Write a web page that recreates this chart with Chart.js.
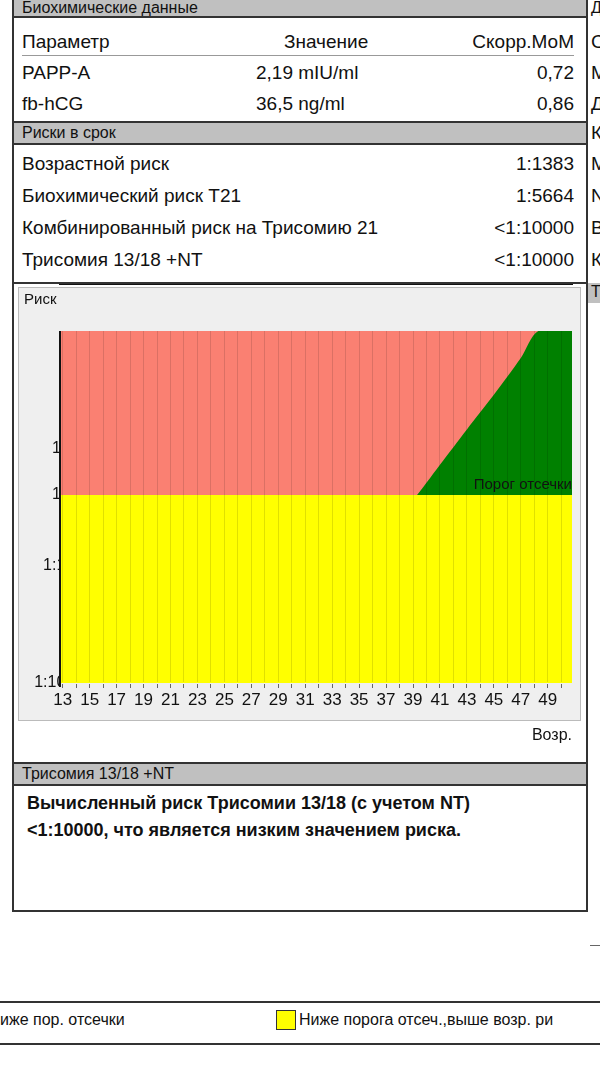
<!DOCTYPE html>
<html>
<head>
<meta charset="utf-8">
<script src="https://cdn.jsdelivr.net/npm/chart.js@4"></script>
<style>
body { margin:0; width:600px; height:1066px; background:#fff; font-family:"Liberation Sans", Arial, sans-serif; position:relative; overflow:hidden; color:#111; }
.box { position:absolute; border:2px solid #333; box-sizing:border-box; }
.hdr { position:absolute; background:#c0c0c0; font-size:16px; padding-left:8px; box-sizing:border-box; line-height:20px; border-bottom:2px solid #333; }
.row { position:absolute; left:22px; width:552px; font-size:19px; }
.r { position:absolute; right:0; }
.m { position:absolute; left:234px; }
.rc { position:absolute; left:591px; font-size:19px; }
</style>
</head>
<body>
<div class="box" style="left:12px;top:-2px;width:576px;height:286px;"></div>
<div class="hdr" style="left:14px;top:0px;width:572px;height:18px;line-height:15px;">Биохимические данные</div>
<div class="row" style="top:31px;border-bottom:1px solid #999;height:24px;">Параметр<span class="m" style="left:262px">Значение</span><span class="r">Скорр.МоМ</span></div>
<div class="row" style="top:62px;">PAPP-A<span class="m">2,19 mIU/ml</span><span class="r">0,72</span></div>
<div class="row" style="top:93px;">fb-hCG<span class="m">36,5 ng/ml</span><span class="r">0,86</span></div>
<div class="hdr" style="left:14px;top:121px;width:572px;height:24px;border-top:2px solid #333;">Риски в срок</div>
<div class="row" style="top:153px;">Возрастной риск<span class="r">1:1383</span></div>
<div class="row" style="top:185px;">Биохимический риск T21<span class="r">1:5664</span></div>
<div class="row" style="top:217px;">Комбинированный риск на Трисомию 21<span class="r">&lt;1:10000</span></div>
<div class="row" style="top:249px;">Трисомия 13/18 +NT<span class="r">&lt;1:10000</span></div>

<div class="box" style="left:12px;top:282px;width:576px;height:630px;"></div>
<div style="position:absolute;left:14px;top:284px;width:570px;height:470px;"><canvas id="c" width="570" height="470"></canvas></div>
<div class="hdr" style="left:14px;top:762px;width:572px;height:24px;border-top:2px solid #333;">Трисомия 13/18 +NT</div>
<div style="position:absolute;left:27px;top:790px;font-size:18px;font-weight:bold;line-height:27px;">Вычисленный риск Трисомии 13/18 (с учетом NT)<br>&lt;1:10000, что является низким значением риска.</div>

<div class="rc" style="top:0px;font-size:16px;line-height:15px;">Д</div>
<div class="rc" style="top:31px;">С</div>
<div class="rc" style="top:62px;">М</div>
<div class="rc" style="top:93px;">Д</div>
<div class="rc" style="top:122px;">К</div>
<div class="rc" style="top:153px;">М</div>
<div class="rc" style="top:185px;">N</div>
<div class="rc" style="top:217px;">В</div>
<div class="rc" style="top:249px;">К</div>
<div style="position:absolute;left:588px;top:283px;width:20px;height:20px;background:#c0c0c0;font-size:16px;padding-left:3px;">Т</div>

<div style="position:absolute;left:590px;top:945px;width:10px;border-top:1px solid #666;"></div>
<div style="position:absolute;left:0;top:1001px;width:600px;height:40px;border-top:2px solid #333;border-bottom:2px solid #333;"></div>
<div style="position:absolute;left:0;top:1011px;font-size:16px;">иже пор. отсечки</div>
<div style="position:absolute;left:276px;top:1010px;width:20px;height:20px;background:#ff0;border:1.5px solid #333;box-sizing:border-box;"></div>
<div style="position:absolute;left:299px;top:1011px;font-size:16px;white-space:nowrap;">Ниже порога отсеч.,выше возр. ри</div>

<script>
'use strict';

let ages = [13, 15, 17, 19, 21, 23, 25, 27, 29, 31, 33, 35, 37, 39, 41, 43, 45, 47, 48.3];
let ageRisk = [4300, 4300, 4300, 4300, 4140, 4000, 3680, 3200, 2480, 1810, 1180, 765, 488, 276, 138, 69, 35, 17, 10];
let cutoff = 250;
let riskTicks = [10, 100, 250, 1000, 10000];
let ageTicks = [13, 15, 17, 19, 21, 23, 25, 27, 29, 31, 33, 35, 37, 39, 41, 43, 45, 47, 49];
let patientAge = 25;
let patientRisk = 5664;

let xMin = 12.8;
let xMax = 50.8;

function pts(xs, ys) {
    return xs.map((x, i) => ({ x: x, y: ys[i] }));
}
let cutLine = [{ x: xMin, y: cutoff }, { x: xMax, y: cutoff }];
let curvePts = pts(ages, ageRisk);
// keep the curve going right at the top edge so the green fill closes
let greenPts = curvePts.concat([{ x: xMax, y: 10 }]);

let panel = {
    id: 'panel',
    beforeDraw(chart) {
        let c = chart.ctx;
        c.save();
        c.fillStyle = '#efefef';
        c.fillRect(4, 3, 562, 433);
        c.strokeStyle = '#bbb';
        c.strokeRect(4.5, 3.5, 562, 433);
        c.restore();
    },
    afterDraw(chart) {
        let c = chart.ctx;
        let a = chart.chartArea;
        c.save();
        c.fillStyle = '#111';
        c.font = '15px "Liberation Sans"';
        c.textAlign = 'left';
        c.fillText('Риск', 10, 20);
        c.textAlign = 'right';
        c.font = '15px "Liberation Sans"';
        c.fillText('Порог отсечки', a.right, chart.scales.y.getPixelForValue(cutoff) - 6);
        c.font = '16px "Liberation Sans"';
        c.fillText('Возр.', a.right, 456);
        c.strokeStyle = '#111';
        c.lineWidth = 2;
        c.beginPath();
        c.moveTo(a.left, a.top); c.lineTo(a.left, a.bottom + 4);
        c.stroke();
        c.restore();
    }
};

new Chart(document.getElementById('c'), {
    type: 'line',
    data: {
        datasets: [
            { data: cutLine, fill: 'start', backgroundColor: '#ffff00', borderWidth: 0, pointRadius: 0 },
            { data: greenPts, fill: 'start', backgroundColor: '#008000', borderWidth: 0, pointRadius: 0, tension: 0.3 },
            { data: cutLine, fill: 'end', backgroundColor: '#fa8072', borderWidth: 0, pointRadius: 0 },
            { data: cutLine, borderColor: '#111', borderWidth: 2, pointRadius: 0, fill: false },
            { data: curvePts, borderColor: '#111', borderWidth: 1.5, pointRadius: 0, fill: false, tension: 0.3 },
            { data: [{ x: patientAge, y: 10000 }, { x: patientAge, y: patientRisk }], borderColor: '#000', borderWidth: 10, borderCapStyle: 'butt', pointRadius: 0, fill: false }
        ]
    },
    options: {
        responsive: false,
        animation: false,
        devicePixelRatio: 1,
        layout: { padding: { top: 47, right: 12, bottom: 39, left: 0 } },
        plugins: { legend: { display: false }, tooltip: { enabled: false } },
        scales: {
            x: {
                type: 'linear', min: xMin, max: xMax,
                afterBuildTicks: s => { s.ticks = []; for (let a = 13; a <= 50; a++) s.ticks.push({ value: a }); },
                afterFit: s => { s.height = 32; },
                grid: { color: 'rgba(0,0,0,0.12)', drawTicks: true, tickLength: 5, tickColor: '#666', z: 1 },
                border: { color: '#111', width: 2 },
                ticks: {
                    autoSkip: false, maxRotation: 0, padding: 2, color: '#111',
                    font: { family: 'Liberation Sans', size: 17 },
                    callback: v => ageTicks.includes(v) ? String(v) : ''
                }
            },
            y: {
                type: 'logarithmic', reverse: true, min: 10, max: 10000, z: 1,
                afterBuildTicks: s => { s.ticks = riskTicks.map(v => ({ value: v })); },
                afterFit: s => { s.width = 46; },
                grid: { display: false },
                border: { display: false },
                ticks: {
                    crossAlign: 'near', padding: -40, color: '#111',
                    font: { family: 'Liberation Sans', size: 16 },
                    callback: v => '1:' + v
                }
            }
        }
    },
    plugins: [panel]
});
</script>
</body>
</html>
